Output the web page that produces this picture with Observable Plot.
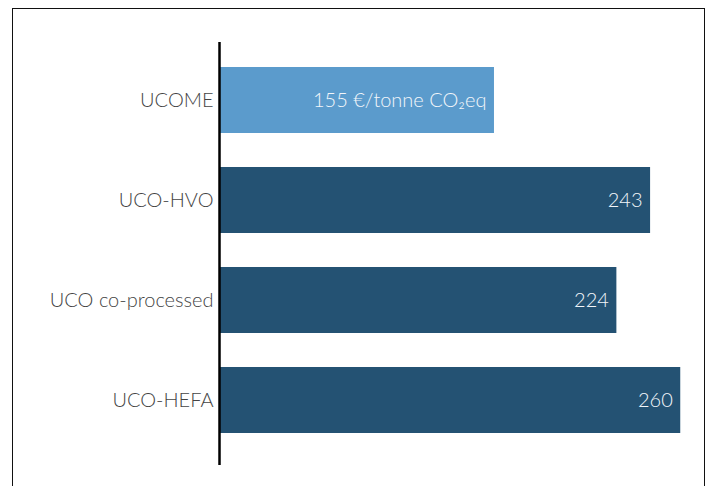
<!DOCTYPE html>
<html>
<head>
<meta charset="utf-8">
<script src="https://cdn.jsdelivr.net/npm/d3@7"></script>
<script src="https://cdn.jsdelivr.net/npm/@observablehq/plot@0.6"></script>
<style>
  html, body { margin: 0; padding: 0; background: #fff; }
  #wrap { position: relative; width: 710px; height: 486px; overflow: hidden; }
  #frame { position: absolute; left: 12px; top: 8px; width: 693px; height: 490px;
           border: 1.5px solid #111; box-sizing: border-box; pointer-events: none; }
  #chart { position: absolute; left: 0; top: 0; }
</style>
</head>
<body>
<div id="wrap"><div id="chart"></div><div id="frame"></div></div>
<script>
const categories = ["UCOME", "UCO-HVO", "UCO co-processed", "UCO-HEFA"];
const values = [155, 243, 224, 260];
const valueLabels = ["155 €/tonne CO₂eq", "243", "224", "260"];
const highlighted = ["UCOME"];

const data = categories.map((c, i) => ({category: c, value: values[i], label: valueLabels[i]}));

const chart = Plot.plot({
  width: 710,
  height: 486,
  marginLeft: 219,
  marginRight: 20,
  marginTop: 42,
  marginBottom: 21,
  style: {fontFamily: "Lato, sans-serif", fontSize: "20px", fontWeight: 300, color: "#444", background: "transparent"},
  x: {domain: [0, 265.5], axis: null},
  y: {domain: categories, range: [66, 433], paddingInner: 0.34, paddingOuter: 0, label: null},
  marks: [
    Plot.barX(data, {
      x: "value", y: "category",
      fill: d => highlighted.includes(d.category) ? "#5b9bcc" : "#245273"
    }),
    Plot.axisY({tickSize: 0, tickPadding: 6, fontSize: 20, label: null, fill: "#444"}),
    Plot.text(data, {
      x: "value", y: "category", text: "label",
      textAnchor: "end", dx: -8, fill: "#f2f6fa", fontSize: 20
    }),
    Plot.ruleX([0], {stroke: "#000", strokeWidth: 2.5})
  ]
});
document.getElementById("chart").appendChild(chart);
</script>
</body>
</html>
